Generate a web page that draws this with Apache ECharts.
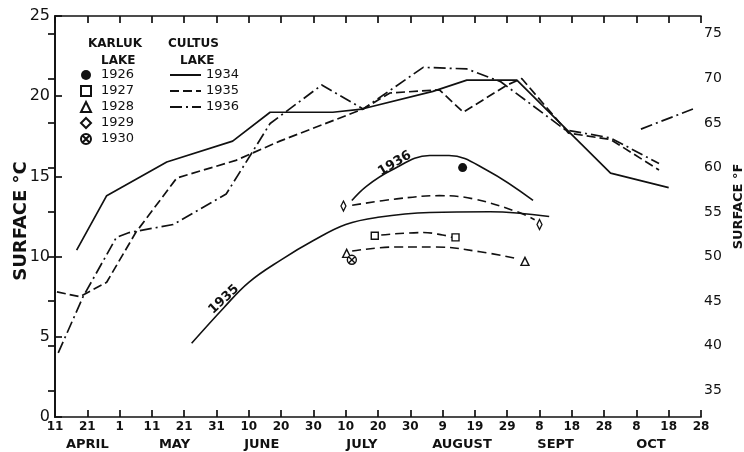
<!DOCTYPE html>
<html>
<head>
<meta charset="utf-8">
<script src="https://cdn.jsdelivr.net/npm/echarts@6/dist/echarts.min.js"></script>
<style>html,body{margin:0;padding:0;background:#fff}#c{width:744px;height:452px}</style>
</head>
<body>
<div id="c"></div>
<script>
// x values: days after 11 April
const dayTickLabels = ['11','21','1','11','21','31','10','20','30','10','20','30','9','19','29','8','18','28','8','18','28'];
const monthNames = ['APRIL','MAY','JUNE','JULY','AUGUST','SEPT','OCT'];
const monthLabelDays = [10, 37, 64, 95, 126, 155, 184.5];
const tempFTicks = [35,40,45,50,55,60,65,70,75];

// Cultus Lake surface temperature (°C)
const cultus1934 = [[6.7,10.4],[16,13.8],[34.6,15.9],[55,17.2],[66.6,19.0],[86,19.0],[95,19.2],[117,20.3],[127.5,21.0],[143,21.0],[172,15.2],[190,14.3]];
const cultus1935 = [[0.6,7.8],[7.7,7.5],[16,8.4],[25,11.5],[37.7,14.9],[56,16.0],[69.6,17.2],[95.4,19.2],[103.7,20.2],[119,20.4],[126.4,19.0],[140,20.7],[144.5,21.1],[159,17.7],[172,17.3],[187,15.4]];
const cultus1936 = [[1,4.0],[8.7,7.5],[19,11.2],[23,11.5],[36.6,12.0],[53,13.9],[66.6,18.3],[82.6,20.7],[95.4,19.2],[114,21.8],[127.5,21.7],[138,20.9],[158,17.9],[172,17.4],[187,15.8]];
const cultus1936b = [[181.4,17.95],[197.5,19.2]];

// Karluk Lake observations (°C)
const karluk1926 = [[126.2,15.55]];
const karluk1927 = [[99,11.3],[124,11.2]];
const karluk1928 = [[90.3,10.2],[145.5,9.7]];
const karluk1929 = [[89.3,13.15],[150,12.0]];
const karluk1930 = [[91.9,9.8]];

// Karluk Lake smoothed curves (°C)
const curveK1935 = [[42.3,4.6],[52.2,6.8],[60,8.4],[70,9.8],[80,11.0],[90,12.0],[100,12.45],[116,12.75],[134.7,12.8],[153,12.5]];
const curveK1936 = [[91.9,13.5],[96.5,14.4],[104,15.37],[116,16.3],[122,16.3],[133.6,15.4],[148,13.5]];
const curveK1929 = [[92,13.2],[105.8,13.6],[119,13.8],[129.5,13.6],[143,12.8],[148.5,12.3]];
const curveK1927 = [[101,11.35],[114,11.5],[120,11.35],[123,11.2]];
const curveK1928 = [[92,10.35],[105.8,10.6],[118,10.6],[131.6,10.3],[142.4,9.9]];

const INK = '#111';
const FONT = 'DejaVu Sans';
const crossCircle = 'path://M0,-10A10,10 0 1,1 0,10A10,10 0 1,1 0,-10ZM-7,-7L7,7M7,-7L-7,7';

function curve(name, data, dash) {
  return {
    name: name, type: 'line', smooth: 0.4, symbol: 'circle', symbolSize: 1, showSymbol: true, data: data,
    itemStyle: {color: 'rgba(0,0,0,0)'},
    lineStyle: {color: INK, width: 1.6, type: dash}, z: 3
  };
}
function pts(name, data, symbol, size, filled) {
  return {
    name: name, type: 'scatter', data: data, symbol: symbol, symbolSize: size,
    itemStyle: {color: filled ? INK : '#fff', borderColor: INK, borderWidth: filled ? 0 : 1.4, opacity: 1}, z: 5
  };
}
const curveLabel = (txt, rot, off) => ({show: true, formatter: txt, rotate: rot, position: 'inside', offset: off, color: INK, fontFamily: FONT, fontSize: 13, fontWeight: 'bold'});
const curve1935Data = curveK1935.map((p, i) => i === 1 ? {value: p, label: curveLabel('1935', 43, [6, -6])} : p);
const curve1936Data = curveK1936.map((p, i) => i === 2 ? {value: p, label: curveLabel('1936', 31, [7, -4])} : p);

const axisLineStyle = {color: INK, width: 1.7};
const chart = echarts.init(document.getElementById('c'), null, {renderer: 'canvas'});
chart.setOption({
  animation: false,
  backgroundColor: '#fff',
  textStyle: {fontFamily: FONT, color: INK},
  grid: {left: 55, right: 43, top: 16, bottom: 35, containLabel: false, outerBoundsMode: 'none'},
  xAxis: [
    {type: 'value', min: 0, max: 200, interval: 10, position: 'bottom',
     axisLine: {lineStyle: axisLineStyle}, axisTick: {inside: true, length: 7, lineStyle: axisLineStyle},
     axisLabel: {formatter: v => dayTickLabels[Math.round(v / 10)], fontSize: 12, fontWeight: 'bold', color: INK, margin: 4, fontFamily: FONT},
     splitLine: {show: false}},
    {type: 'value', min: 0, max: 200, interval: 10, position: 'top',
     axisLine: {lineStyle: axisLineStyle}, axisTick: {inside: true, length: 7, lineStyle: axisLineStyle},
     axisLabel: {show: false}, splitLine: {show: false}},
    {type: 'value', min: 0, max: 200, position: 'bottom', offset: 17,
     axisLine: {show: false}, axisTick: {show: false}, splitLine: {show: false},
     axisLabel: {customValues: monthLabelDays, formatter: v => monthNames[monthLabelDays.indexOf(v)], fontSize: 13, fontWeight: 'bold', color: INK, fontFamily: FONT, margin: 4}}
  ],
  yAxis: [
    {type: 'value', min: 0, max: 25, interval: 5, position: 'left',
     name: 'SURFACE °C', nameLocation: 'middle', nameGap: 25, nameRotate: 90, nameMoveOverlap: false,
     nameTextStyle: {fontSize: 18, fontWeight: 'bold', color: INK, fontFamily: FONT, padding: [0, 9, 0, 0]},
     axisLine: {show: true, lineStyle: axisLineStyle}, axisTick: {show: true, inside: true, length: 7, lineStyle: axisLineStyle},
     axisLabel: {fontSize: 16, color: INK, margin: 5, fontFamily: FONT}, splitLine: {show: false}},
    {type: 'value', min: 32, max: 77, position: 'right',
     name: 'SURFACE °F', nameLocation: 'middle', nameGap: 31, nameRotate: 90, nameMoveOverlap: false,
     nameTextStyle: {fontSize: 13, fontWeight: 'bold', color: INK, fontFamily: FONT, padding: [0, 0, 0, 20]},
     axisLine: {show: true, lineStyle: axisLineStyle}, axisTick: {show: true, inside: true, length: 7, customValues: tempFTicks, lineStyle: axisLineStyle},
     axisLabel: {customValues: tempFTicks, fontSize: 14, color: INK, margin: 3, fontFamily: FONT}, splitLine: {show: false}}
  ],
  legend: [
    {data: ['1926','1927','1928','1929','1930'], orient: 'vertical', left: 80, top: 67, padding: 0, itemWidth: 10, itemHeight: 10, itemGap: 0,
     selectedMode: false, textStyle: {fontSize: 13, lineHeight: 16, color: INK, fontFamily: FONT, padding: [0,0,0,5]}},
    {data: ['1934','1935','1936'], orient: 'vertical', left: 169, top: 67, padding: 0, itemWidth: 31, itemHeight: 10, itemGap: 0,
     selectedMode: false, itemStyle: {opacity: 0}, textStyle: {fontSize: 13, lineHeight: 16, color: INK, fontFamily: FONT}}
  ],
  graphic: [
    {type: 'text', left: 88, top: 38, style: {text: 'KARLUK', font: 'bold 12px "DejaVu Sans"', fill: INK}},
    {type: 'text', left: 101, top: 55, style: {text: 'LAKE', font: 'bold 12px "DejaVu Sans"', fill: INK}},
    {type: 'text', left: 168, top: 38, style: {text: 'CULTUS', font: 'bold 12px "DejaVu Sans"', fill: INK}},
    {type: 'text', left: 180, top: 55, style: {text: 'LAKE', font: 'bold 12px "DejaVu Sans"', fill: INK}}
  ],
  series: [
    {name: '1934', type: 'line', data: cultus1934, symbol: 'none', lineStyle: {color: INK, width: 1.7, type: 'solid'}, itemStyle: {color: INK}},
    {name: '1935', type: 'line', data: cultus1935, symbol: 'none', lineStyle: {color: INK, width: 1.7, type: [9, 4]}, itemStyle: {color: INK}},
    {name: '1936', type: 'line', data: cultus1936, symbol: 'none', lineStyle: {color: INK, width: 1.7, type: [12, 4, 2, 4]}, itemStyle: {color: INK}},
    {name: '1936', type: 'line', data: cultus1936b, symbol: 'none', lineStyle: {color: INK, width: 1.7, type: [12, 4, 2, 4]}, itemStyle: {color: INK}},
    curve('K1935', curve1935Data, 'solid'),
    curve('K1936', curve1936Data, 'solid'),
    curve('K1929', curveK1929, [9, 5]),
    curve('K1927', curveK1927, [9, 5]),
    curve('K1928', curveK1928, [9, 5]),
    pts('1926', karluk1926, 'circle', 9, true),
    pts('1927', karluk1927, 'rect', 7, false),
    pts('1928', karluk1928, 'triangle', 8, false),
    pts('1929', karluk1929, 'diamond', [5, 10], false),
    pts('1930', karluk1930, crossCircle, 9, false)
  ]
});
</script>
</body>
</html>
